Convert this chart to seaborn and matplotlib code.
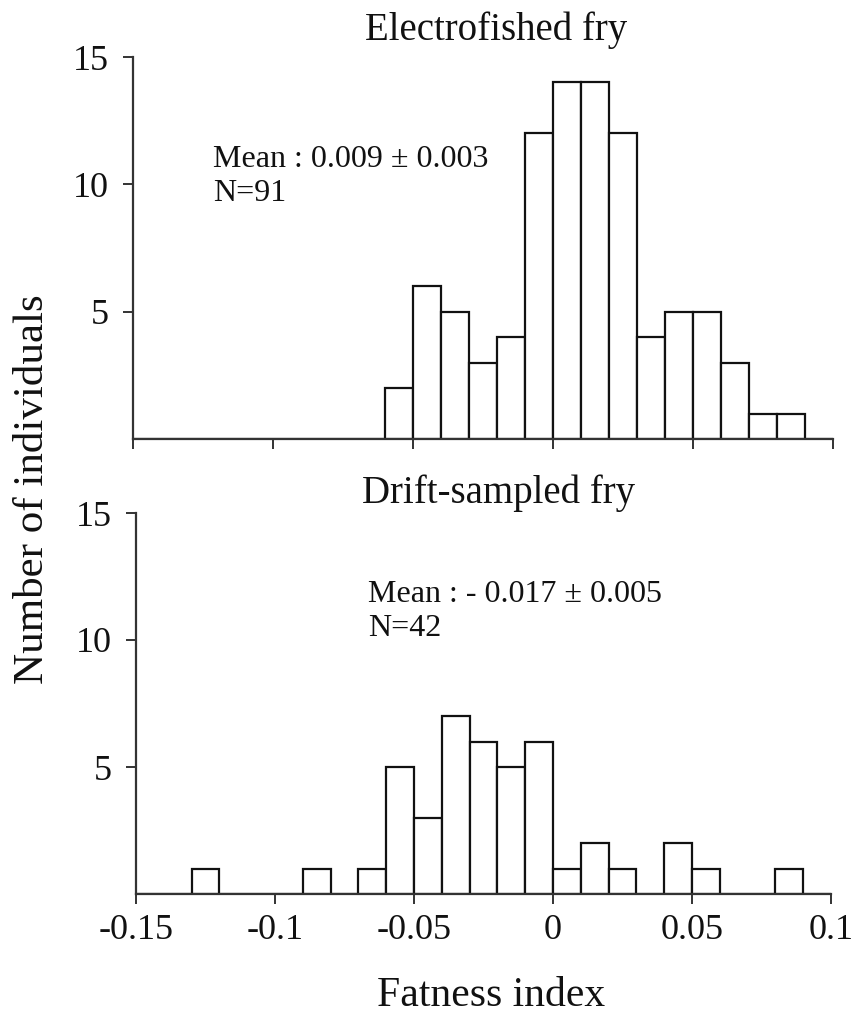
import numpy as np
import pandas as pd
import matplotlib
matplotlib.use("Agg")
import matplotlib.pyplot as plt
import seaborn as sns

# Fatness index histograms, bin width 0.01
bin_edges = [round(v, 2) for v in np.linspace(-0.15, 0.10, 26)]

# Electrofished fry: bin centres and counts
electro_centres = [-0.055, -0.045, -0.035, -0.025, -0.015, -0.005, 0.005, 0.015,
                   0.025, 0.035, 0.045, 0.055, 0.065, 0.075, 0.085]
electro_counts = [2, 6, 5, 3, 4, 12, 14, 14, 12, 4, 5, 5, 3, 1, 1]

# Drift-sampled fry: bin centres and counts
drift_centres = [-0.125, -0.085, -0.065, -0.055, -0.045, -0.035, -0.025, -0.015,
                 -0.005, 0.005, 0.015, 0.025, 0.045, 0.055, 0.085]
drift_counts = [1, 1, 1, 5, 3, 7, 6, 5, 6, 1, 2, 1, 2, 1, 1]

x_ticks = [-0.15, -0.1, -0.05, 0, 0.05, 0.1]
x_tick_labels = ["-0.15", "-0.1", "-0.05", "0", "0.05", "0.1"]
y_ticks = [5, 10, 15]
y_tick_labels = ["5", "10", "15"]

titles = ["Electrofished fry", "Drift-sampled fry"]
stats_text = ["Mean : 0.009 \u00b1 0.003\nN=91", "Mean : - 0.017 \u00b1 0.005\nN=42"]

sns.set_style("ticks")
plt.rcParams["font.family"] = ["Liberation Serif", "DejaVu Serif"]
plt.rcParams["axes.unicode_minus"] = False

fig = plt.figure(figsize=(8.57, 10.21), dpi=100)
ax_top = fig.add_axes([133 / 857, 1 - 439 / 1021, 700 / 857, 382 / 1021])
ax_bot = fig.add_axes([136 / 857, 1 - 894 / 1021, 695 / 857, 381 / 1021])

panels = [
    (ax_top, electro_centres, electro_counts),
    (ax_bot, drift_centres, drift_counts),
]

for ax, centres, counts in panels:
    df = pd.DataFrame({"fatness": centres, "n": counts})
    sns.histplot(data=df, x="fatness", weights="n", bins=bin_edges, ax=ax,
                 stat="count", element="bars", fill=True,
                 color="white", edgecolor="#111111", linewidth=1.6,
                 alpha=1)
    ax.set_xlim(-0.15, 0.10)
    ax.set_ylim(0, 15)
    ax.set_xticks(x_ticks)
    ax.set_yticks(y_ticks)
    ax.set_yticklabels(y_tick_labels, fontsize=26)
    ax.set_xlabel("")
    ax.set_ylabel("")
    for side in ("top", "right"):
        ax.spines[side].set_visible(False)
    for side in ("left", "bottom"):
        ax.spines[side].set_color("#333333")
        ax.spines[side].set_linewidth(1.6)
    ax.tick_params(axis="both", direction="out", length=7.5, width=1.4,
                   color="#333333", labelcolor="#111111")
    ax.tick_params(axis="y", pad=10)
    ax.tick_params(axis="x", pad=7)

ax_top.set_xticklabels([])
ax_bot.set_xticklabels(x_tick_labels, fontsize=26)

# Panel titles
fig.text(496 / 857, 1 - 30 / 1021, titles[0], ha="center", va="center",
         fontsize=28, color="#111111")
fig.text(498 / 857, 1 - 493 / 1021, titles[1], ha="center", va="center",
         fontsize=28, color="#111111")

# Summary statistics
ax_top.text(-0.1215, 10.3, stats_text[0], ha="left", va="center",
            fontsize=23, linespacing=1.22, color="#111111")
ax_bot.text(-0.0665, 11.12, stats_text[1], ha="left", va="center",
            fontsize=23, linespacing=1.22, color="#111111")

# Shared axis labels
fig.text(33 / 857, 1 - 489 / 1021, "Number of individuals", rotation=90,
         ha="center", va="center", fontsize=31, color="#111111")
fig.text(491 / 857, 1 - 996 / 1021, "Fatness index", ha="center", va="center",
         fontsize=30, color="#111111")

fig.savefig("out.png", dpi=100, facecolor="white")
